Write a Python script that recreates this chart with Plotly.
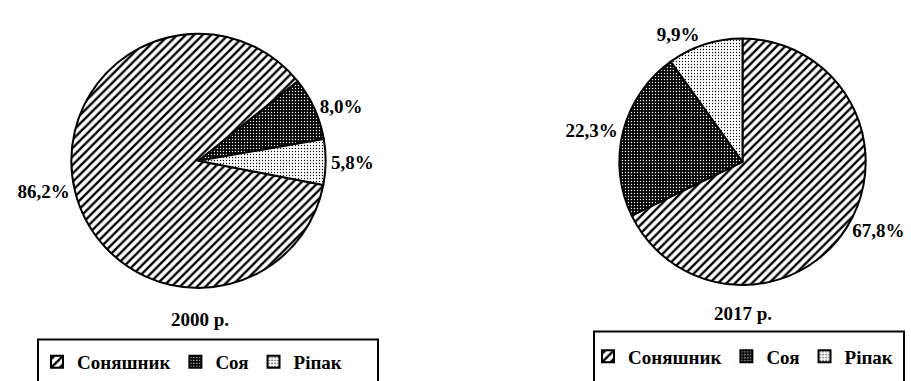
import plotly.graph_objects as go

categories = ["Соняшник", "Соя", "Ріпак"]
values_2000 = [86.2, 8.0, 5.8]
values_2017 = [67.8, 22.3, 9.9]
titles = ["2000 р.", "2017 р."]

FONT = "'Liberation Serif', 'Times New Roman', serif"
W, H = 911, 381

patterns = dict(
    shape=["/", ".", "."],
    fgcolor=["#000000", "#ffffff", "#000000"],
    bgcolor=["#ffffff", "#000000", "#ffffff"],
    size=[6, 3, 3],
    solidity=[0.4, 0.18, 0.15],
    fillmode="replace",
)

def px_dom(cx, cy, r):
    return dict(x=[(cx - r) / W, (cx + r) / W],
                y=[1 - (cy + r) / H, 1 - (cy - r) / H])

textfont = dict(family=FONT, size=19, color="black")
legfont = dict(family=FONT, size=19, color="black", weight="bold")

fig = go.Figure()
fig.add_trace(go.Pie(
    labels=categories, values=values_2000, sort=False,
    direction="clockwise", rotation=101,
    domain=px_dom(198.5, 162.5, 128.5),
    textposition="outside", texttemplate="<b>%{value:.1f}%</b>",
    outsidetextfont=textfont,
    marker=dict(colors=["#ffffff", "#000000", "#ffffff"],
                line=dict(color="black", width=2), pattern=patterns),
    legend="legend", legendgroup="g2000", hoverinfo="label+value",
))
fig.add_trace(go.Pie(
    labels=categories, values=values_2017, sort=False,
    direction="clockwise", rotation=0,
    domain=px_dom(742.5, 163.5, 124.5),
    textposition="outside", texttemplate="<b>%{value:.1f}%</b>",
    outsidetextfont=textfont,
    marker=dict(colors=["#ffffff", "#000000", "#ffffff"],
                line=dict(color="black", width=2), pattern=patterns),
    legend="legend2", legendgroup="g2017", hoverinfo="label+value",
))

legend_common = dict(
    orientation="h", font=legfont,
    bgcolor="rgba(0,0,0,0)", borderwidth=0,
    xanchor="left", yanchor="top", traceorder="normal",
)
fig.update_layout(
    width=W, height=H,
    margin=dict(l=0, r=0, t=0, b=0),
    paper_bgcolor="white",
    separators=", ",
    showlegend=True,
    legend=dict(x=37 / W, y=1 - 347 / H, **legend_common),
    legend2=dict(x=588 / W, y=1 - 341 / H, **legend_common),
    annotations=[
        dict(text="<b>" + titles[0] + "</b>", x=200 / W, y=1 - 323 / H,
             xanchor="center", yanchor="middle",
             xref="paper", yref="paper", showarrow=False, font=textfont),
        dict(text="<b>" + titles[1] + "</b>", x=743 / W, y=1 - 317 / H,
             xanchor="center", yanchor="middle",
             xref="paper", yref="paper", showarrow=False, font=textfont),
    ],
    shapes=[
        dict(type="rect", xref="paper", yref="paper",
             x0=38 / W, x1=378 / W, y0=-0.1, y1=1 - 343 / H,
             line=dict(color="black", width=2)),
        dict(type="rect", xref="paper", yref="paper",
             x0=594 / W, x1=904 / W, y0=-0.1, y1=1 - 335 / H,
             line=dict(color="black", width=2)),
    ],
)

fig.write_html("out.html")
